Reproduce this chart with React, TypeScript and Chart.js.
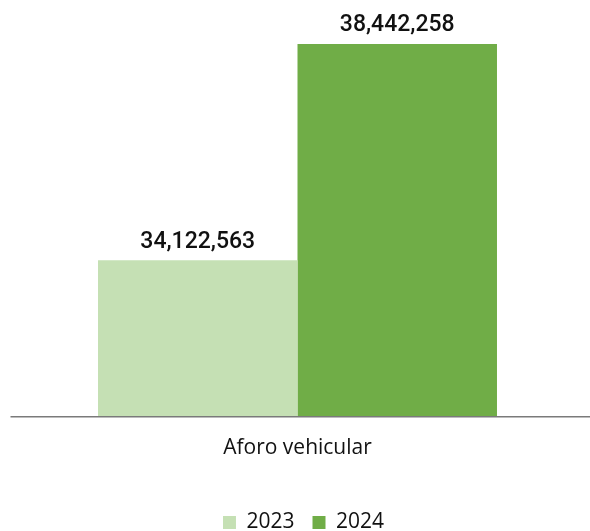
import React, { useEffect, useRef } from "react";
import { Chart, registerables } from "chart.js";

Chart.register(...registerables);

const categories = ["Aforo vehicular"];
const seriesNames = ["2023", "2024"];
const values2023 = [34122563];
const values2024 = [38442258];
const seriesColors = ["#c5e0b4", "#70ad47"];

const FONT = "'Open Sans', 'Noto Sans', sans-serif";

const valueLabels = {
  id: "valueLabels",
  afterDatasetsDraw(chart: any) {
    const ctx = chart.ctx;
    ctx.save();
    ctx.font = `500 23px Roboto, ${FONT}`;
    ctx.fillStyle = "#111111";
    ctx.textAlign = "center";
    ctx.textBaseline = "bottom";
    chart.data.datasets.forEach((ds: any, i: number) => {
      const meta = chart.getDatasetMeta(i);
      meta.data.forEach((bar: any, j: number) => {
        const v = ds.data[j] as number;
        ctx.fillText(v.toLocaleString("en-US"), bar.x, bar.y - 7);
      });
    });
    ctx.restore();
  },
};

const axisLine = {
  id: "axisLine",
  afterDatasetsDraw(chart: any) {
    const ctx = chart.ctx;
    const y = chart.scales.y.bottom;
    ctx.save();
    ctx.strokeStyle = "#7a7a7a";
    ctx.lineWidth = 1.5;
    ctx.beginPath();
    ctx.moveTo(chart.chartArea.left + 5.5, y);
    ctx.lineTo(chart.width, y);
    ctx.stroke();
    ctx.restore();
  },
};

const legendShift = {
  id: "legendShift",
  afterLayout(chart: any) {
    if (chart.legend) {
      chart.legend.left += 6;
      chart.legend.right += 6;
    }
  },
};

export default function App() {
  const ref = useRef<HTMLCanvasElement | null>(null);
  useEffect(() => {
    document.body.style.margin = "0";
    const chart = new Chart(ref.current as HTMLCanvasElement, {
      type: "bar",
      data: {
        labels: categories,
        datasets: [
          { label: seriesNames[0], data: values2023, backgroundColor: seriesColors[0] },
          { label: seriesNames[1], data: values2024, backgroundColor: seriesColors[1] },
        ],
      },
      options: {
        animation: false,
        responsive: false,
        maintainAspectRatio: false,
        layout: { padding: { left: 5, right: 0, top: 1, bottom: -12 } },
        datasets: { bar: { categoryPercentage: 0.682, barPercentage: 1 } } as any,
        scales: {
          x: {
            grid: { display: false, drawTicks: false },
            border: { display: false },
            ticks: { color: "#111111", font: { family: FONT, size: 21 }, padding: 19 },
            afterFit(scale: any) {
              scale.height += 14;
            },
          },
          y: {
            display: false,
            min: 31000000,
            max: 39300000,
          },
        },
        plugins: {
          legend: {
            position: "bottom",
            labels: {
              color: "#111111",
              font: { family: FONT, size: 21 },
              boxWidth: 13,
              boxHeight: 13,
              padding: 18,
            },
          },
          tooltip: { enabled: false },
        },
      },
      plugins: [valueLabels, axisLine, legendShift],
    });
    return () => chart.destroy();
  }, []);
  return <canvas ref={ref} width={590} height={531} style={{ display: "block" }} />;
}
